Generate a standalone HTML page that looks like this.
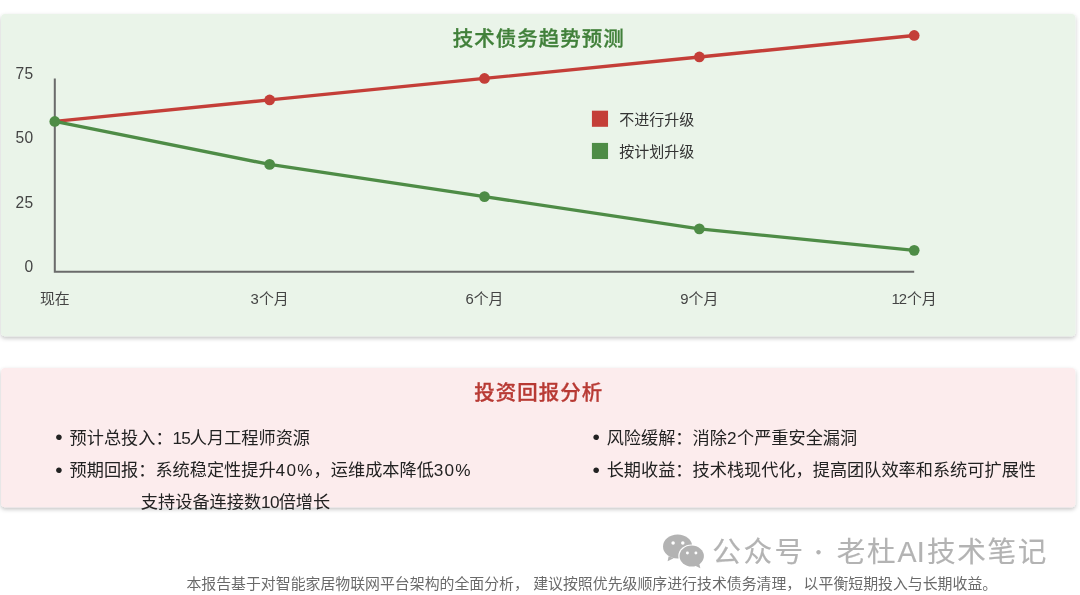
<!DOCTYPE html>
<html lang="zh-CN">
<head>
<meta charset="utf-8">
<title>技术债务趋势预测</title>
<style>
html,body{margin:0;padding:0;background:#fff;}
body{width:1080px;height:595px;overflow:hidden;position:relative;font-family:"Liberation Sans","Noto Sans CJK SC",sans-serif;}
svg{position:absolute;left:0;top:0;display:block;}
text{font-family:"Liberation Sans","Noto Sans CJK SC",sans-serif;}
</style>
</head>
<body>
<svg width="1080" height="595" viewBox="0 0 1080 595">
  <defs>
    <filter id="sh" x="-5%" y="-10%" width="110%" height="130%">
      <feDropShadow dx="0" dy="1.5" stdDeviation="1.5" flood-color="#000" flood-opacity="0.24"/>
    </filter>
  </defs>
  <g transform="translate(1.09,14) scale(1.3428)">
    <!-- card 1 -->
    <rect x="0" y="0" width="800" height="240" rx="3" fill="#eaf4e9" filter="url(#sh)"/>
    <text x="400.4" y="23.7" text-anchor="middle" font-size="15.2" letter-spacing="0.8" font-weight="500" fill="#41803a" stroke="#41803a" stroke-width="0.25">技术债务趋势预测</text>
    <polyline points="40,48 40,192 680,192" fill="none" stroke="#6b6b6b" stroke-width="1.5"/>
    <g font-size="11.6" letter-spacing="0.3" fill="#444" text-anchor="end">
      <text x="24.2" y="48.3">75</text>
      <text x="24.2" y="96.3">50</text>
      <text x="24.2" y="144.3">25</text>
      <text x="24.2" y="192.3">0</text>
    </g>
    <g font-size="11.1" fill="#444" text-anchor="middle">
      <text x="40" y="215.7">现在</text>
      <text x="200" y="215.7">3个月</text>
      <text x="360" y="215.7">6个月</text>
      <text x="520" y="215.7">9个月</text>
      <text x="680" y="215.7"><tspan letter-spacing="-0.9">1</tspan>2个月</text>
    </g>
    <polyline points="40,80 200,64 360,48 520,32 680,16" fill="none" stroke="#c43e38" stroke-width="2.5"/>
    <polyline points="40,80 200,112 360,136 520,160 680,176" fill="none" stroke="#4e8c46" stroke-width="2.5"/>
    <g fill="#c43e38">
      <circle cx="200" cy="64" r="4"/><circle cx="360" cy="48" r="4"/><circle cx="520" cy="32" r="4"/><circle cx="680" cy="16" r="4"/>
    </g>
    <g fill="#4e8c46">
      <circle cx="40" cy="80" r="4"/><circle cx="200" cy="112" r="4"/><circle cx="360" cy="136" r="4"/><circle cx="520" cy="160" r="4"/><circle cx="680" cy="176" r="4"/>
    </g>
    <rect x="440" y="72" width="12" height="12" fill="#c43e38"/>
    <text x="460.3" y="82.3" font-size="11.2" fill="#333">不进行升级</text>
    <rect x="440" y="96" width="12" height="12" fill="#4e8c46"/>
    <text x="460.3" y="106.3" font-size="11.2" fill="#333">按计划升级</text>

    <!-- card 2 -->
    <g transform="translate(0,263.7)">
      <rect x="0" y="0" width="800" height="103.7" rx="3" fill="#fceced" filter="url(#sh)"/>
      <text x="400.4" y="24" text-anchor="middle" font-size="15.2" letter-spacing="0.8" font-weight="500" fill="#b83a34" stroke="#b83a34" stroke-width="0.22">投资回报分析</text>
      <g font-size="15.6" fill="#222" text-anchor="middle">
        <text x="43.1" y="56.9">•</text>
        <text x="43.1" y="80.9">•</text>
        <text x="443.1" y="56.9">•</text>
        <text x="443.1" y="80.9">•</text>
      </g>
      <g font-size="12.8" fill="#222">
        <text x="51" y="56.4">预计总投入：<tspan letter-spacing="-0.7">15</tspan>人月工程师资源</text>
        <text x="51" y="80.4">预期回报：系统稳定性提升<tspan letter-spacing="0.9">40%</tspan>，运维成本降低<tspan letter-spacing="0.9">30%</tspan></text>
        <text x="104.1" y="104.4">支持设备连接数<tspan letter-spacing="-0.55">10</tspan>倍增长</text>
        <text x="451" y="56.4">风险缓解：消除<tspan letter-spacing="0.4">2</tspan>个严重安全漏洞</text>
        <text x="451" y="80.4">长期收益：技术栈现代化，提高团队效率和系统可扩展性</text>
      </g>
    </g>
  </g>
  <!-- watermark -->
  <g fill="#b3b3b3">
    <path d="M668.6 556.2 L667.6 561.2 L673.6 558.2 Z"/>
    <ellipse cx="677.6" cy="546.4" rx="14.6" ry="12"/>
    <ellipse cx="691.7" cy="556.1" rx="13.4" ry="11.7" fill="#fff"/>
    <path d="M699.2 563.6 L700.4 568.2 L695.2 565.8 Z"/>
    <ellipse cx="691.7" cy="556.1" rx="12.2" ry="10.5"/>
    <circle cx="673.1" cy="543" r="1.75" fill="#fff"/>
    <circle cx="682.8" cy="543" r="1.75" fill="#fff"/>
    <circle cx="687.4" cy="553" r="1.45" fill="#fff"/>
    <circle cx="695.9" cy="553" r="1.45" fill="#fff"/>
  </g>
  <text y="562.2" font-size="28.6" letter-spacing="1.65" fill="#b3b3b3" stroke="#b3b3b3" stroke-width="0.15"><tspan x="712.3" letter-spacing="2.5">公众号 </tspan><tspan x="807.9" y="560.2" font-size="21" font-family="'Noto Sans CJK SC', sans-serif" letter-spacing="0" stroke="none">· </tspan><tspan x="836.7" y="562.2">老杜</tspan><tspan x="897.4" letter-spacing="0.3">AI</tspan><tspan x="927">技术笔记</tspan></text>
  <text y="589" font-size="14.9" fill="#6a6a6a"><tspan x="186.4">本报告基于对智能家居物联网平台架构的全面分析，</tspan><tspan x="533.2">建议按照优先级顺序进行技术债务清理，</tspan><tspan x="803.6">以平衡短期投入与长期收益。</tspan></text>
</svg>
</body>
</html>
